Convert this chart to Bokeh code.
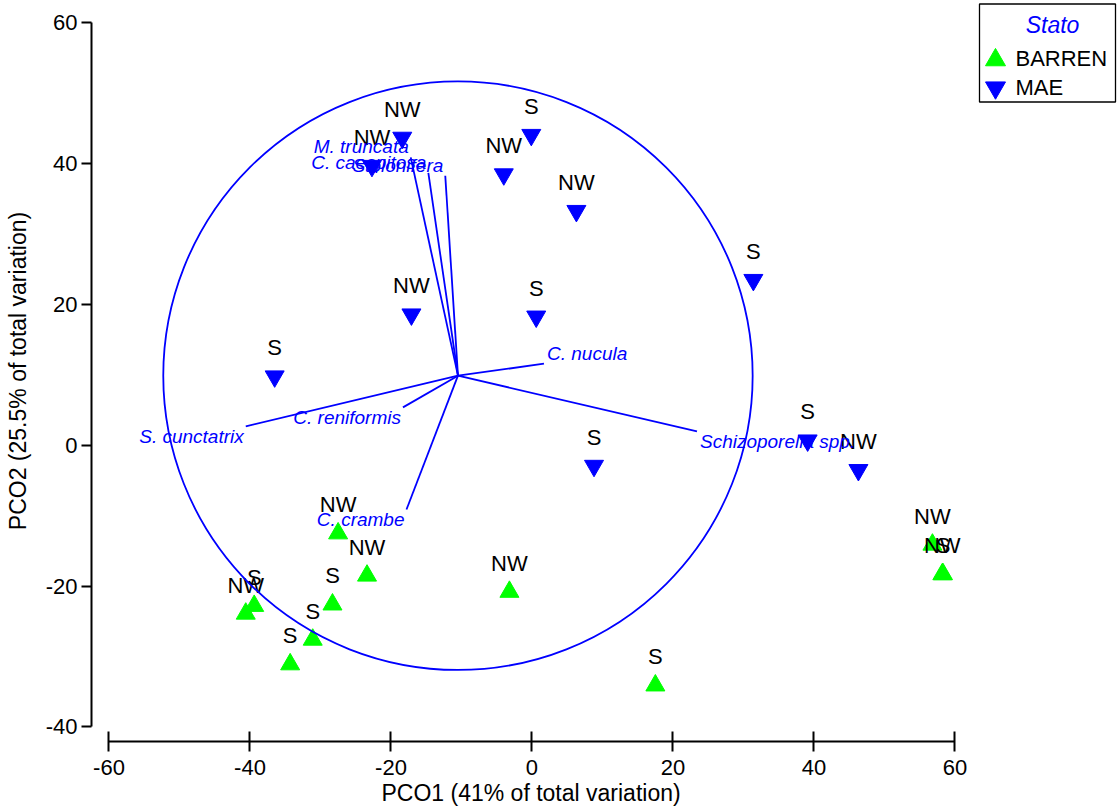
from bokeh.plotting import figure
from bokeh.models import Range1d, FixedTicker, Title, ColumnDataSource
from bokeh.core.properties import value
from bokeh.embed import file_html
from bokeh.resources import INLINE

# ---- sample scores on PCO1 / PCO2, split by "Stato" ----
groups = ["BARREN", "MAE"]

barren_sito = ["NW", "NW", "S", "S", "S", "S", "NW", "NW", "S", "NW", "NW", "S"]
barren_pco1 = [-27.5, -23.4, -28.3, -31.1, -34.3, -39.4, -40.6, -3.2, 17.5, 56.8, 58.2, 58.3]
barren_pco2 = [-12.5, -18.5, -22.6, -27.6, -31.1, -22.8, -23.9, -20.8, -34.1, -14.1, -18.3, -18.3]

mae_sito = ["NW", "NW", "S", "NW", "NW", "NW", "S", "S", "S", "S", "NW", "S"]
mae_pco1 = [-18.4, -22.7, -0.1, -4.0, 6.3, -17.1, 0.6, -36.5, 8.8, 39.1, 46.3, 31.4]
mae_pco2 = [43.7, 39.7, 44.1, 38.5, 33.3, 18.6, 18.3, 9.8, -2.9, 0.7, -3.5, 23.5]

# ---- species vectors (end points), drawn from the circle centre ----
species = ["S. cunctatrix", "C. reniformis", "C. crambe", "C. nucula",
           "Schizoporella spp.", "M. truncata", "C. caespitosa", "Stolonifera"]
vec_x = [-40.6, -18.3, -17.8, 1.7, 23.4, -17.2, -14.7, -12.3]
vec_y = [2.7, 5.4, -9.1, 11.6, 2.0, 40.9, 38.7, 38.3]
vec_origin = (-10.5, 9.9)
circle_radius = 41.8

# ---- axis ticks and titles ----
x_ticks = [-60, -40, -20, 0, 20, 40, 60]
y_ticks = [-40, -20, 0, 20, 40, 60]
x_title = "PCO1 (41% of total variation)"
y_title = "PCO2 (25.5% of total variation)"
legend_title = "Stato"

FONT = "Liberation Sans"
GREEN = "#00FF00"
BLUE = "#0000FF"

p = figure(
    width=1117, height=810,
    x_range=Range1d(-62.48, 83.05), y_range=Range1d(-42.06, 63.19),
    output_backend="svg", toolbar_location=None,
    min_border_left=91, min_border_right=0, min_border_top=0, min_border_bottom=69,
    background_fill_color="white", border_fill_color="white",
)
p.outline_line_color = None
p.xgrid.visible = False
p.ygrid.visible = False

# pixel-like helper ranges for the key box in the upper right corner
p.extra_x_ranges = {"px": Range1d(91, 1117)}
p.extra_y_ranges = {"px": Range1d(741, 0)}

# ---- axes ----
for ax in (p.xaxis[0], p.yaxis[0]):
    ax.axis_line_width = 2
    ax.axis_line_color = "black"
    ax.major_tick_line_width = 2
    ax.major_tick_line_color = "black"
    ax.minor_tick_line_color = None
    ax.major_label_text_font = FONT
    ax.major_label_text_font_size = "22px"
    ax.major_label_text_color = "black"

p.xaxis.ticker = FixedTicker(ticks=x_ticks)
p.xaxis.bounds = (x_ticks[0], x_ticks[-1])
p.xaxis.major_label_overrides = {t: str(t) for t in x_ticks}
p.xaxis.major_tick_in = 10
p.xaxis.major_tick_out = 10
p.xaxis.major_label_standoff = 8

p.yaxis.ticker = FixedTicker(ticks=y_ticks)
p.yaxis.bounds = (y_ticks[0], y_ticks[-1])
p.yaxis.major_label_overrides = {t: str(t) for t in y_ticks}
p.yaxis.major_tick_in = 0
p.yaxis.major_tick_out = 10
p.yaxis.major_label_standoff = 4
p.yaxis.major_label_orientation = "horizontal"
p.yaxis.axis_label = y_title
p.yaxis.axis_label_text_font = FONT
p.yaxis.axis_label_text_font_size = "23px"
p.yaxis.axis_label_text_font_style = "normal"
p.yaxis.axis_label_text_color = "black"
p.yaxis.axis_label_standoff = 12

# x title sits under the axis, centred on the axis span rather than the frame
p.add_layout(Title(text=x_title, align="left", offset=290, standoff=0,
                   text_font=FONT, text_font_size="23px", text_font_style="normal",
                   text_color="black"), "below")

# ---- sample symbols ----
src_b = ColumnDataSource(dict(x=barren_pco1, y=barren_pco2, t=barren_sito))
src_m = ColumnDataSource(dict(x=mae_pco1, y=mae_pco2, t=mae_sito))

p.scatter("x", "y", source=src_b, marker="triangle", size=19,
          fill_color=GREEN, line_color=GREEN)
p.scatter("x", "y", source=src_m, marker="inverted_triangle", size=19,
          fill_color=BLUE, line_color=BLUE)

for src in (src_b, src_m):
    p.text("x", "y", text="t", source=src, y_offset=-28.5,
           text_align="center", text_baseline="middle",
           text_font=value(FONT), text_font_size="22px", text_color="black")

# ---- correlation circle and vectors ----
ox, oy = vec_origin
p.ellipse(x=[ox], y=[oy], width=[2 * circle_radius], height=[2 * circle_radius],
          fill_color=None, line_color=BLUE, line_width=1.8)
p.segment(x0=[ox] * len(vec_x), y0=[oy] * len(vec_y), x1=vec_x, y1=vec_y,
          line_color=BLUE, line_width=1.8)

aligns = ["left" if vx > ox else "right" for vx in vec_x]
baselines = ["bottom" if vy > oy else "top" for vy in vec_y]
xoffs = [3 if vx > ox else -2 for vx in vec_x]
src_v = ColumnDataSource(dict(x=vec_x, y=vec_y, t=species, a=aligns, b=baselines, xo=xoffs))
p.text("x", "y", text="t", source=src_v, text_align="a", text_baseline="b",
       x_offset="xo", text_font=value(FONT), text_font_size="19px",
       text_font_style="italic", text_color=BLUE)

# ---- key box ----
key_left, key_right, key_top, key_bottom = 979, 1115, 3.5, 101.5
p.quad(left=[key_left], right=[key_right], top=[key_top], bottom=[key_bottom],
       fill_color="white", line_color="black", line_width=1.3,
       x_range_name="px", y_range_name="px")
p.text(x=[1052], y=[24.2], text=[legend_title], text_align="center",
       text_baseline="middle", text_font=value(FONT), text_font_size="23px",
       text_font_style="italic", text_color=BLUE,
       x_range_name="px", y_range_name="px")

key_markers = {"BARREN": ("triangle", GREEN), "MAE": ("inverted_triangle", BLUE)}
row_y = [59.5, 87.2]
row_text_y = [57.5, 86.8]
for g, my, ty in zip(groups, row_y, row_text_y):
    mk, col = key_markers[g]
    p.scatter(x=[995], y=[my], marker=mk, size=20, fill_color=col, line_color=col,
              x_range_name="px", y_range_name="px")
    p.text(x=[1015], y=[ty], text=[g], text_align="left", text_baseline="middle",
           text_font=value(FONT), text_font_size="22px", text_color="black",
           x_range_name="px", y_range_name="px")

open("out.html", "w").write(file_html(p, INLINE))
